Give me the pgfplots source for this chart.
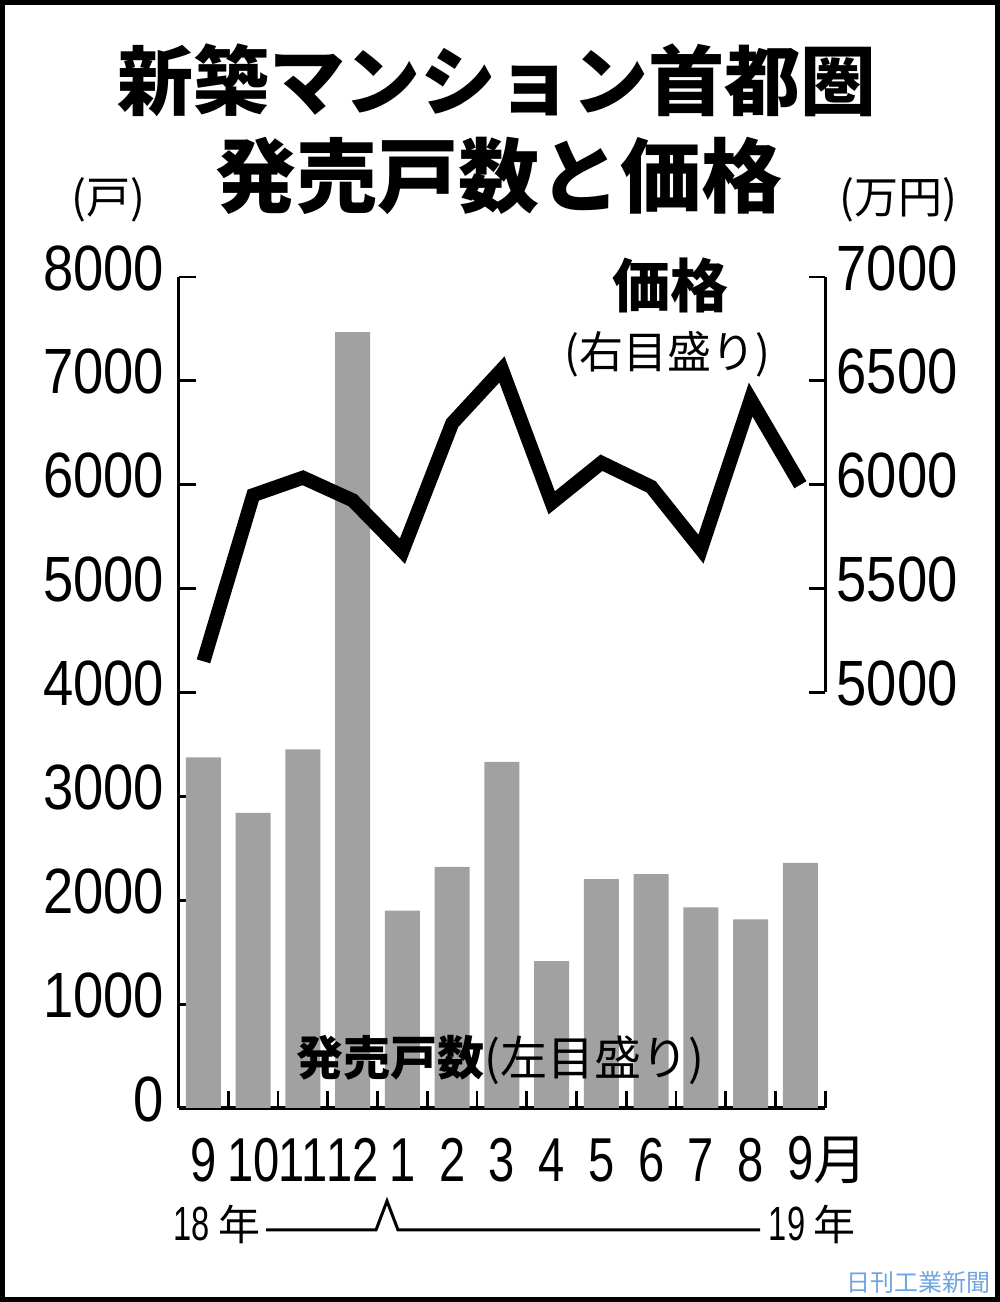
\documentclass[border=0pt]{standalone}
\usepackage{fontspec}
\setmainfont{Liberation Sans}
\newfontfamily\jp{Noto Sans CJK JP}
\newfontfamily\tkfont[FakeStretch=0.85]{Liberation Sans}
\newfontfamily\monfont[FakeStretch=0.76]{Liberation Sans}
\newfontfamily\yrfont[FakeStretch=0.68]{Liberation Sans}
\usepackage{pgfplots}
\pgfplotsset{compat=1.18}
\definecolor{barfill}{gray}{0.63}
\definecolor{nikkan}{RGB}{110,165,225}

\begin{document}
\begin{tikzpicture}
\useasboundingbox (0,0) rectangle (500pt,651pt);

% sales volume (left scale)
\begin{axis}[
  at={(89.3pt,97pt)}, anchor=south west,
  width=323.35pt, height=415.5pt, scale only axis,
  xmin=-0.5, xmax=12.5, ymin=0, ymax=8000,
  axis x line=bottom, axis y line=left,
  axis line style={line width=1.6pt, -},
  xtick={0.5,1.5,...,12.5}, xticklabels={},
  ytick={0,1000,...,8000},
  scaled y ticks=false,
  tick align=inside,
  major tick length=8.5pt,
  tick style={line width=1.4pt, black},
  yticklabel style={font=\fontsize{32}{32}\selectfont\tkfont, anchor=east,
    inner sep=0pt, xshift=-7pt, yshift=4.5pt},
  /pgf/number format/assume math mode=true,
  /pgf/number format/1000 sep={},
  clip=false,
]
\addplot[ybar, bar width=17.5pt, fill=barfill, draw=none] coordinates {
  (0,3375) (1,2842) (2,3452) (3,7469) (4,1899) (5,2322) (6,3333)
  (7,1415) (8,2204) (9,2252) (10,1932) (11,1816) (12,2361)
};
\end{axis}

% price (right scale)
\begin{axis}[
  at={(89.3pt,97pt)}, anchor=south west,
  width=323.35pt, height=415.5pt, scale only axis,
  xmin=-0.5, xmax=12.5, ymin=3000, ymax=7000,
  axis x line=none, axis y line=right,
  axis line style={draw=none},
  ytick={5000,5500,...,7000},
  scaled y ticks=false,
  tick align=inside,
  major tick length=8pt,
  tick style={line width=1.4pt, black},
  yticklabel style={font=\fontsize{32}{32}\selectfont\tkfont, anchor=west,
    inner sep=0pt, xshift=5.5pt, yshift=4.5pt},
  /pgf/number format/assume math mode=true,
  /pgf/number format/1000 sep={},
  clip=false,
]
\draw[line width=1.6pt] (axis cs:12.5,5000) -- (axis cs:12.5,7000);
\addplot[black, line width=7pt, line join=miter, miter limit=2.5, mark=none] coordinates {
  (0,5150) (1,5950) (2,6034) (3,5925) (4,5680) (5,6296) (6,6555)
  (7,5913) (8,6106) (9,5990) (10,5690) (11,6410) (12,6000)
};
\end{axis}

% texts, in pixel coordinates of the reference
\begin{scope}[x=0.5pt, y=-0.5pt, yshift=651pt]
  \node[font=\fontsize{38}{38}\selectfont\jp\bfseries] at (497,80) {新築マンション首都圏};
  \node[font=\fontsize{40.5}{40.5}\selectfont\jp\bfseries] at (499,176) {発売戸数と価格};
  \node[font=\fontsize{22}{22}\selectfont\jp] at (108,200) {(戸)};
  \node[font=\fontsize{22}{22}\selectfont\jp] at (898,200) {(万円)};
  \node[font=\fontsize{29}{29}\selectfont\jp\bfseries] at (670,285) {価格};
  \node[font=\fontsize{22}{22}\selectfont\jp] at (667,354) {(右目盛り)};
  \node[font=\fontsize{23.5}{23.5}\selectfont\jp] at (500,1060) {\bfseries 発売戸数\mdseries(左目盛り)};
  % months, under the bar centres
  \foreach \i/\lab in {0/9, 1/10, 2/11, 3/12, 4/1, 5/2, 6/3, 7/4, 8/5, 9/6, 10/7, 11/8}
    \node[font=\fontsize{31}{31}\selectfont\monfont] at ({203.5+49.75*\i},1160) {\lab};
  \node[font=\fontsize{31}{31}\selectfont\monfont] at (800.5,1160) {9\rlap{\jp\fontsize{27}{27}\selectfont 月}};
  % years
  \node[font=\fontsize{24}{24}\selectfont\yrfont] at (217,1224) {18\,{\jp\fontsize{21}{21}\selectfont 年}};
  \node[font=\fontsize{24}{24}\selectfont\yrfont] at (812,1224) {19\,{\jp\fontsize{21}{21}\selectfont 年}};
  \draw[line width=1.5pt] (266,1230) -- (376,1230) -- (387,1201) -- (398,1230) -- (760,1230);
  % credit
  \node[nikkan, font=\fontsize{12}{12}\selectfont\jp, anchor=south east, inner sep=1pt] at (993,1296) {日刊工業新聞};
\end{scope}

\draw[line width=2.6pt] (1.3pt,1.3pt) rectangle (498.7pt,649.7pt);
\end{tikzpicture}
\end{document}
